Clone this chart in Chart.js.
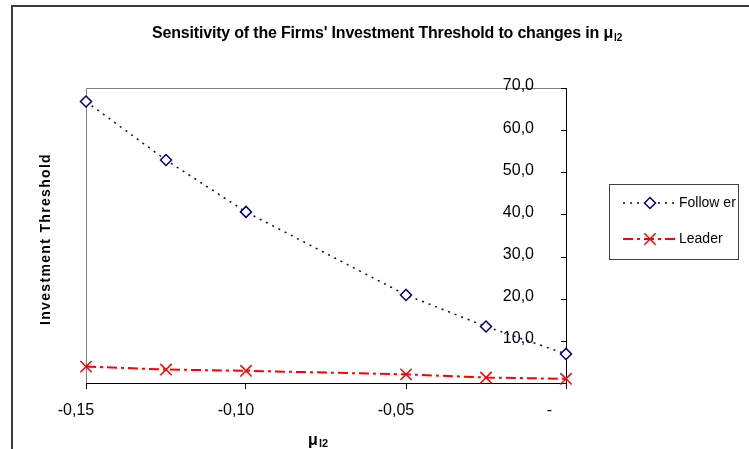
<!DOCTYPE html>
<html>
<head>
<meta charset="utf-8">
<title>Sensitivity of the Firms' Investment Threshold</title>
<script src="https://cdn.jsdelivr.net/npm/chart.js@4.4.1/dist/chart.umd.min.js"></script>
<style>
    html, body { margin: 0; padding: 0; background: #ffffff; }
    #wrap { position: relative; width: 749px; height: 449px; }
</style>
</head>
<body>
<div id="wrap"><canvas id="threshold-chart" width="749" height="449"></canvas></div>
<script>
// data
const muValues = [-0.15, -0.125, -0.10, -0.05, -0.025, 0];
const followerThreshold = [66.8, 52.9, 40.6, 20.9, 13.4, 6.9];
const leaderThreshold = [3.9, 3.2, 2.9, 2.05, 1.3, 1.0];
const seriesNames = ['Follow er', 'Leader'];
const xTickValues = [-0.15, -0.10, -0.05, 0];
const xTickLabels = ['-0,15', '-0,10', '-0,05', '-   '];
const yTickValues = [0, 10, 20, 30, 40, 50, 60, 70];

const FONT = "'Liberation Sans', Arial, sans-serif";
Chart.defaults.font.family = FONT;

// text stretched to a given width (Excel spacing is wider than canvas)
function fitText(ctx, text, x, y, width, font) {
    ctx.font = font;
    const natural = ctx.measureText(text).width;
    if ('letterSpacing' in ctx && text.length > 1) {
        ctx.letterSpacing = ((width - natural) / text.length) + 'px';
    }
    ctx.fillText(text, x, y);
    if ('letterSpacing' in ctx) ctx.letterSpacing = '0px';
}

function drawMarker(ctx, style, x, y, radius, color) {
    ctx.save();
    ctx.strokeStyle = color;
    ctx.fillStyle = '#ffffff';
    ctx.lineWidth = 1.5;
    ctx.setLineDash([]);
    ctx.beginPath();
    if (style === 'rectRot') {
        ctx.moveTo(x - radius, y);
        ctx.lineTo(x, y - radius);
        ctx.lineTo(x + radius, y);
        ctx.lineTo(x, y + radius);
        ctx.closePath();
        ctx.fill();
    } else {
        const o = radius * Math.SQRT1_2;
        ctx.moveTo(x - o, y - o); ctx.lineTo(x + o, y + o);
        ctx.moveTo(x + o, y - o); ctx.lineTo(x - o, y + o);
    }
    ctx.stroke();
    ctx.restore();
}

const decorations = {
    id: 'decorations',
    beforeDraw(chart) {
        const ctx = chart.ctx;
        const area = chart.chartArea;
        ctx.save();
        ctx.fillStyle = '#ffffff';
        ctx.fillRect(0, 0, chart.width, chart.height);
        // outer frame (only top and left show)
        ctx.strokeStyle = '#3c3c3c';
        ctx.lineWidth = 2;
        ctx.beginPath();
        ctx.moveTo(12, chart.height);
        ctx.lineTo(12, 6);
        ctx.lineTo(chart.width, 6);
        ctx.stroke();
        // plot area frame, grey on top and left
        ctx.strokeStyle = '#808080';
        ctx.lineWidth = 1;
        ctx.beginPath();
        ctx.moveTo(Math.round(area.left) + 0.5, Math.round(area.bottom));
        ctx.lineTo(Math.round(area.left) + 0.5, Math.round(area.top) + 0.5);
        ctx.lineTo(Math.round(area.right), Math.round(area.top) + 0.5);
        ctx.stroke();
        ctx.restore();
    },
    afterDraw(chart) {
        const ctx = chart.ctx;
        const area = chart.chartArea;
        const yScale = chart.scales.y;
        ctx.save();
        // y tick marks point inwards
        ctx.strokeStyle = '#000000';
        ctx.lineWidth = 1;
        ctx.beginPath();
        yScale.ticks.forEach(t => {
            const py = Math.round(yScale.getPixelForValue(t.value)) + 0.5;
            ctx.moveTo(area.right - 5, py);
            ctx.lineTo(area.right, py);
        });
        ctx.stroke();

        // title
        ctx.fillStyle = '#000000';
        ctx.textAlign = 'left';
        ctx.textBaseline = 'alphabetic';
        fitText(ctx, "Sensitivity of the Firms' Investment Threshold to changes in \u03bc", 152, 38, 461, 'bold 16px ' + FONT);
        ctx.font = 'bold 10px ' + FONT;
        ctx.fillText('l2', 614, 41);

        // axis titles
        ctx.save();
        ctx.translate(50, 325);
        ctx.rotate(-Math.PI / 2);
        fitText(ctx, 'Investment Threshold', 0, 0, 172, 'bold 14px ' + FONT);
        ctx.restore();
        ctx.font = 'bold 16px ' + FONT;
        ctx.fillText('\u03bc', 308, 445);
        ctx.font = 'bold 11px ' + FONT;
        ctx.fillText('l2', 319, 447);

        // legend
        ctx.strokeStyle = '#404040';
        ctx.lineWidth = 1;
        ctx.strokeRect(609.5, 184.5, 129, 75);
        const rows = [203, 239];
        chart.data.datasets.forEach((ds, i) => {
            const ly = rows[i];
            ctx.save();
            ctx.strokeStyle = ds.borderColor;
            ctx.lineWidth = ds.borderWidth;
            ctx.setLineDash(ds.borderDash);
            ctx.beginPath();
            ctx.moveTo(623, ly);
            ctx.lineTo(676, ly);
            ctx.stroke();
            ctx.restore();
            drawMarker(ctx, ds.pointStyle, 650, ly, ds.pointRadius, ds.pointBorderColor);
            ctx.fillStyle = '#000000';
            ctx.font = '14px ' + FONT;
            ctx.textBaseline = 'middle';
            ctx.fillText(ds.label, 679, ly);
            ctx.textBaseline = 'alphabetic';
        });
        ctx.restore();
    }
};

const ctxThreshold = document.getElementById('threshold-chart').getContext('2d');
const thresholdChart = new Chart(ctxThreshold, {
    type: 'scatter',
    data: {
        datasets: [{
            label: seriesNames[0],
            data: muValues.map((m, i) => ({ x: m, y: followerThreshold[i] })),
            showLine: true,
            borderColor: '#000080',
            borderWidth: 1.5,
            borderDash: [2, 5],
            pointStyle: 'rectRot',
            pointRadius: 5.5,
            pointBorderColor: '#000080',
            pointBackgroundColor: '#ffffff',
            pointBorderWidth: 1.5,
            clip: false
        },
        {
            label: seriesNames[1],
            data: muValues.map((m, i) => ({ x: m, y: leaderThreshold[i] })),
            showLine: true,
            borderColor: '#ff0000',
            borderWidth: 2,
            borderDash: [10, 4, 3, 4],
            pointStyle: 'crossRot',
            pointRadius: 8,
            pointBorderColor: '#ff0000',
            pointBackgroundColor: '#ff0000',
            pointBorderWidth: 1.5,
            clip: false
        }]
    },
    options: {
        responsive: false,
        animation: false,
        events: [],
        layout: {
            padding: { left: 86, top: 88, right: 0, bottom: 0 }
        },
        plugins: {
            legend: { display: false },
            title: { display: false },
            tooltip: { enabled: false }
        },
        scales: {
            x: {
                type: 'linear',
                position: 'bottom',
                min: -0.15,
                max: 0,
                afterBuildTicks: scale => { scale.ticks = xTickValues.map(v => ({ value: v })); },
                afterFit: scale => { scale.height = 66; },
                border: { color: '#000000', width: 1 },
                grid: { drawOnChartArea: false, drawTicks: true, tickLength: 6, color: '#000000' },
                ticks: {
                    color: '#000000',
                    font: { size: 16 },
                    padding: 12,
                    labelOffset: -10,
                    maxRotation: 0,
                    autoSkip: false,
                    callback: (value, index) => xTickLabels[index]
                }
            },
            y: {
                type: 'linear',
                position: 'right',
                min: 0,
                max: 70,
                afterBuildTicks: scale => { scale.ticks = yTickValues.map(v => ({ value: v })); },
                afterFit: scale => { scale.width = 183; },
                border: { color: '#000000', width: 1 },
                grid: { drawOnChartArea: false, drawTicks: false },
                ticks: {
                    mirror: true,
                    padding: -32,
                    labelOffset: -2,
                    color: '#000000',
                    font: { size: 16 },
                    callback: value => value === 0 ? '' : value.toFixed(1).replace('.', ',')
                }
            }
        }
    },
    plugins: [decorations]
});
</script>
</body>
</html>
